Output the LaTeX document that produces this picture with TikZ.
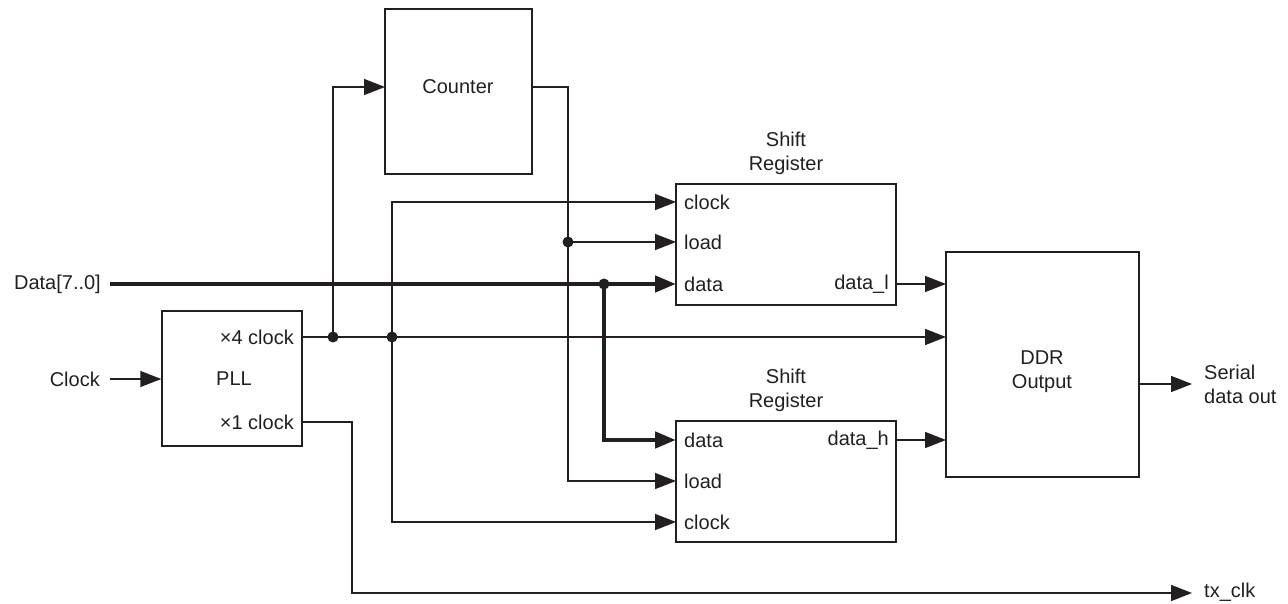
\documentclass[tikz,border=0pt]{standalone}
\usepackage{fontspec}
\setmainfont{Liberation Sans}
\usetikzlibrary{arrows.meta}
\definecolor{ink}{RGB}{35,31,32}
\begin{document}
\begin{tikzpicture}[x=1pt,y=-1pt,
  every node/.style={font=\fontsize{20}{24}\selectfont, text=ink},
  blk/.style={draw=ink, line width=1.5pt, inner sep=0pt},
  lbl/.style={inner sep=0pt},
  wire/.style={draw=ink, line width=1.5pt},
  sig/.style={wire, -{Triangle[length=21pt,width=16pt]}},
  bus/.style={draw=ink, line width=4.5pt, -{Triangle[length=21pt,width=16pt]}},
  jdot/.style={circle, fill=ink, inner sep=0pt, minimum size=11pt}
]
\useasboundingbox (0,0) rectangle (1288,604);

% blocks
\node[blk, minimum width=140pt, minimum height=135pt] (pll) at (232,378.5) {};
\node[blk, minimum width=147pt, minimum height=165pt] (cnt) at (458.5,91.5) {};
\node[blk, minimum width=220pt, minimum height=121pt] (sr1) at (786,244.5) {};
\node[blk, minimum width=220pt, minimum height=121pt] (sr2) at (786,481.5) {};
\node[blk, minimum width=193pt, minimum height=225pt] (ddr) at (1042.5,364.5) {};

% block labels
\node[lbl] (plllbl) at (234,379) {PLL};
\node[lbl, anchor=east] (pll4lbl) at (294,337) {×4 clock};
\node[lbl, anchor=east] (pll1lbl) at (294,422) {×1 clock};
\node[lbl] (cntlbl) at (458,87) {Counter};
\node[lbl, align=center, anchor=south] (sr1t) at ([yshift=8pt]sr1.north) {Shift\\Register};
\node[lbl, align=center, anchor=south] (sr2t) at ([yshift=8pt]sr2.north) {Shift\\Register};
\node[lbl, anchor=west] (s1clkl) at (684,202) {clock};
\node[lbl, anchor=west] (s1loadl) at (684,242) {load};
\node[lbl, anchor=west] (s1datal) at (684,284) {data};
\node[lbl, anchor=east] (s1outl) at (889,284) {data\_l};
\node[lbl, anchor=west] (s2datal) at (684,440) {data};
\node[lbl, anchor=west] (s2loadl) at (684,481) {load};
\node[lbl, anchor=west] (s2clkl) at (684,522) {clock};
\node[lbl, anchor=east] (s2outl) at (889,440) {data\_h};
\node[lbl, align=center] (ddrlbl) at (1042,372) {DDR\\Output};

% external labels
\node[lbl, anchor=east] (dtxt) at (101,284) {Data[7..0]};
\node[lbl, anchor=east] (ctxt) at (100,379) {Clock};
\node[lbl, anchor=west, align=left] (sotxt) at (1204,384) {Serial\\data out};
\node[lbl, anchor=west] (txtxt) at (1204,592) {tx\_clk};

% ports
\coordinate (pll4) at (302,337);
\coordinate (pll1) at (302,422);
\coordinate (cntin) at (385,87);
\coordinate (cntout) at (532,87);
\coordinate (s1clk) at (676,202);
\coordinate (s1load) at (676,242);
\coordinate (s1data) at (676,284);
\coordinate (s1out) at (896,284);
\coordinate (s2data) at (676,440);
\coordinate (s2load) at (676,481);
\coordinate (s2clk) at (676,522);
\coordinate (s2out) at (896,440);
\coordinate (ddrl) at (946,284);
\coordinate (ddrck) at (946,337);
\coordinate (ddrh) at (946,440);
\coordinate (ddrout) at (1139,384);
\coordinate (soend) at (1192,384);
\coordinate (txbend) at (352,593);
\coordinate (txend) at (1192,593);

% connectors
\draw[sig] ([xshift=10pt]ctxt.east) -- (pll.west |- ctxt);
\draw[bus] ([xshift=9pt]dtxt.east) -- (s1data);
\draw[bus] (604,284) coordinate (j4c) |- (s2data);
\draw[sig] (pll4) -- (ddrck);
\draw[sig] (333,337) coordinate (j1c) |- (cntin);
\draw[sig] (392,337) coordinate (j2c) |- (s1clk);
\draw[sig] (j2c) |- (s2clk);
\draw[sig] (cntout) -| (568,242) coordinate (j3c) |- (s2load);
\draw[sig] (j3c) -- (s1load);
\draw[sig] (s1out) -- (ddrl);
\draw[sig] (s2out) -- (ddrh);
\draw[sig] (ddrout) -- (soend);
\draw[sig] (pll1) -| (txbend) -- (txend);

% junctions
\node[jdot] (j1) at (j1c) {};
\node[jdot] (j2) at (j2c) {};
\node[jdot] (j3) at (j3c) {};
\node[jdot] (j4) at (j4c) {};
\end{tikzpicture}
\end{document}
